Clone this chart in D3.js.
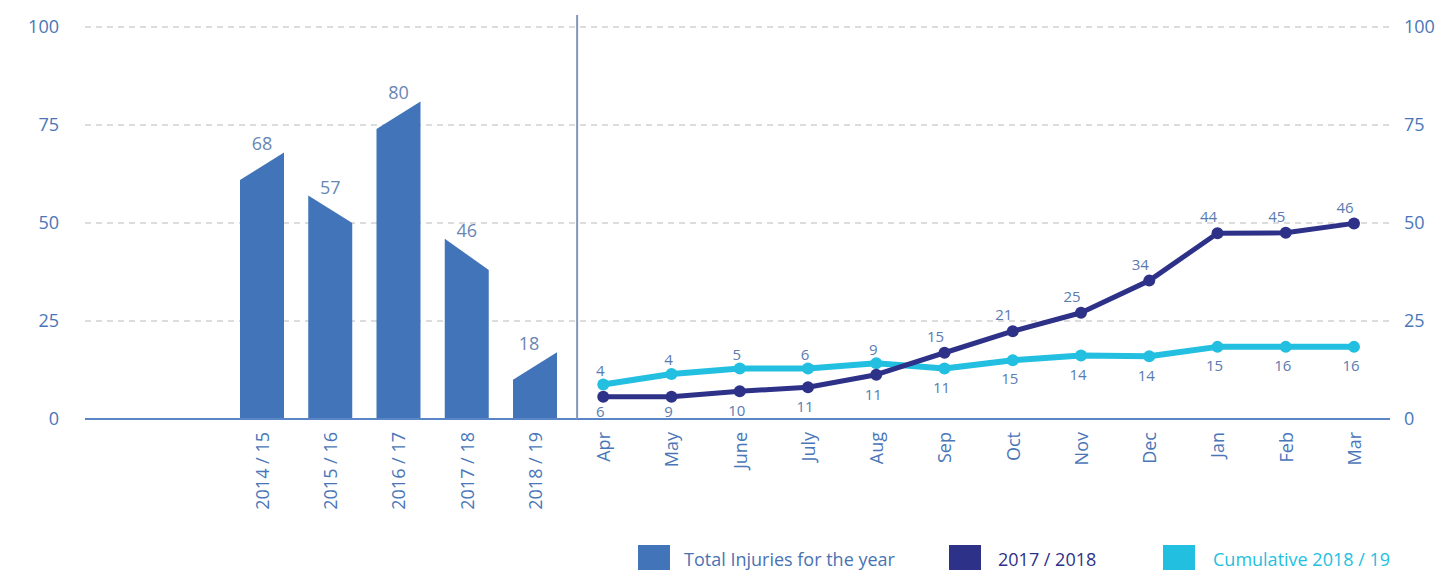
<!DOCTYPE html>
<html>
<head>
<meta charset="utf-8">
<script src="https://cdn.jsdelivr.net/npm/d3@7"></script>
<style>
  html, body { margin: 0; padding: 0; background: #ffffff; }
  svg { display: block; font-family: "Open Sans", "Noto Sans", sans-serif; }
</style>
</head>
<body>
<svg id="chart" width="1439" height="570"></svg>
<script>
// ---- data ----
const years = ["2014 / 15", "2015 / 16", "2016 / 17", "2017 / 18", "2018 / 19"];
const yearTotals = [68, 57, 80, 46, 18];          // printed labels
const barLeftTop = [61, 57, 74, 46, 10];          // height of each bar's left edge
const barRightTop = [68, 50, 81, 38, 17];         // height of each bar's right edge

const months = ["Apr", "May", "June", "July", "Aug", "Sep", "Oct", "Nov", "Dec", "Jan", "Feb", "Mar"];
const prev1718 = [5.7, 5.7, 7.1, 8.1, 11.3, 16.9, 22.4, 27.1, 35.3, 47.4, 47.5, 49.9];
const prev1718Labels = [6, 9, 10, 11, 11, 15, 21, 25, 34, 44, 45, 46];
const cumulative1819 = [8.8, 11.5, 12.9, 12.9, 14.2, 12.9, 15.0, 16.2, 16.0, 18.4, 18.4, 18.4];
const cumulativeLabels = [4, 4, 5, 6, 9, 11, 15, 14, 14, 15, 16, 16];

const yTicks = [0, 25, 50, 75, 100];
const legendItems = ["Total Injuries for the year", "2017 / 2018", "Cumulative 2018 / 19"];

// ---- styling ----
const FONT = '"Open Sans", "Noto Sans", sans-serif';
const C_BAR = "#4174b9", C_DARK = "#2e3188", C_CYAN = "#22bfe0";
const C_TICK = "#4a76b8", C_LABEL = "#5a7bb0";

const svg = d3.select("#chart");

const y = d3.scaleLinear().domain([0, 100]).range([419, 27]);
const x = d3.scalePoint().domain(years.concat(months)).range([262, 1354]);
const barW = 44;
const plotLeft = 85, plotRight = 1390;

// gridlines
svg.append("g").selectAll("line")
  .data(yTicks.filter(d => d > 0))
  .join("line")
  .attr("x1", plotLeft).attr("x2", plotRight)
  .attr("y1", d => y(d)).attr("y2", d => y(d))
  .attr("stroke", "#dcdcdc").attr("stroke-width", 2)
  .attr("stroke-dasharray", "6,5");

// left axis
const gl = svg.append("g").attr("transform", "translate(59,0)")
  .call(d3.axisLeft(y).tickValues(yTicks).tickSize(0).tickPadding(0))
  .attr("font-family", FONT).attr("font-size", 18);
gl.select(".domain").remove();
gl.selectAll("text").attr("fill", C_TICK).attr("text-anchor", "end");

// right axis
const gr = svg.append("g").attr("transform", "translate(1404,0)")
  .call(d3.axisRight(y).tickValues(yTicks).tickSize(0).tickPadding(0))
  .attr("font-family", FONT).attr("font-size", 18);
gr.select(".domain").remove();
gr.selectAll("text").attr("fill", C_TICK).attr("text-anchor", "start");

// bars with slanted tops
const barData = years.map((yr, i) => ({ yr, l: barLeftTop[i], r: barRightTop[i], t: yearTotals[i] }));
svg.append("g").selectAll("path")
  .data(barData)
  .join("path")
  .attr("d", d => {
    const cx = x(d.yr), x0 = cx - barW / 2, x1 = cx + barW / 2;
    return `M${x0},${y(0)}L${x0},${y(d.l)}L${x1},${y(d.r)}L${x1},${y(0)}Z`;
  })
  .attr("fill", C_BAR);

svg.append("g").selectAll("text")
  .data(barData)
  .join("text")
  .attr("x", (d, i) => x(d.yr) + (i === 4 ? -6 : 0))
  .attr("y", d => y(Math.max(d.l, d.r)) - 2)
  .attr("text-anchor", "middle")
  .attr("fill", "#6a86b3")
  .style("font-size", "18px")
  .text(d => d.t);

// baseline
svg.append("line")
  .attr("x1", plotLeft).attr("x2", plotRight)
  .attr("y1", y(0)).attr("y2", y(0))
  .attr("stroke", "#5a86c8").attr("stroke-width", 2);

// divider between yearly and monthly parts
const divX = (x(years[years.length - 1]) + x(months[0])) / 2 + 8;
svg.append("line")
  .attr("x1", divX).attr("x2", divX)
  .attr("y1", 15).attr("y2", y(0))
  .attr("stroke", "#8196bb").attr("stroke-width", 2);

// category axis
const gx = svg.append("g").attr("transform", `translate(0,${y(0)})`)
  .call(d3.axisBottom(x).tickSize(0).tickPadding(0))
  .attr("font-family", FONT).attr("font-size", 18);
gx.select(".domain").remove();
gx.selectAll("text")
  .attr("fill", C_TICK)
  .attr("text-anchor", "end")
  .attr("transform", "rotate(-90)")
  .attr("x", -13).attr("y", 0).attr("dy", "0.35em");

// lines
const line = d3.line().x((d, i) => x(months[i])).y(d => y(d));

function drawSeries(values, color, width, r) {
  const g = svg.append("g");
  g.append("path").datum(values)
    .attr("d", line)
    .attr("fill", "none").attr("stroke", color)
    .attr("stroke-width", width).attr("stroke-linejoin", "round");
  g.selectAll("circle").data(values).join("circle")
    .attr("cx", (d, i) => x(months[i])).attr("cy", d => y(d))
    .attr("r", r).attr("fill", color);
}
drawSeries(cumulative1819, C_CYAN, 6, 6);
drawSeries(prev1718, C_DARK, 5, 6);

// point labels
svg.append("g").selectAll("text")
  .data(prev1718)
  .join("text")
  .attr("x", (d, i) => x(months[i]) + (i < 5 ? -3 : -9))
  .attr("y", (d, i) => i < 5 ? Math.min(y(d) + 20, 412) : y(d) - 16)
  .attr("dy", "0.35em")
  .attr("text-anchor", "middle")
  .attr("fill", C_LABEL)
  .style("font-size", "15px")
  .text((d, i) => prev1718Labels[i]);

svg.append("g").selectAll("text")
  .data(cumulative1819)
  .join("text")
  .attr("x", (d, i) => x(months[i]) - 3)
  .attr("y", (d, i) => i < 5 ? y(d) - 14 : y(d) + 19)
  .attr("dy", "0.35em")
  .attr("text-anchor", "middle")
  .attr("fill", C_LABEL)
  .style("font-size", "15px")
  .text((d, i) => cumulativeLabels[i]);

// legend
const legendColors = [C_BAR, C_DARK, C_CYAN];
const legendTextColors = ["#4a72b3", C_DARK, C_CYAN];
const legendX = [638, 949, 1163];
const lg = svg.append("g").selectAll("g")
  .data(legendItems)
  .join("g")
  .attr("transform", (d, i) => `translate(${legendX[i]},545)`);
lg.append("rect").attr("width", 32).attr("height", 30)
  .attr("fill", (d, i) => legendColors[i]);
lg.append("text").attr("x", (d, i) => i === 1 ? 49 : (i === 0 ? 46 : 50)).attr("y", 21)
  .attr("fill", (d, i) => legendTextColors[i])
  .style("font-size", "18px")
  .text(d => d);
</script>
</body>
</html>
